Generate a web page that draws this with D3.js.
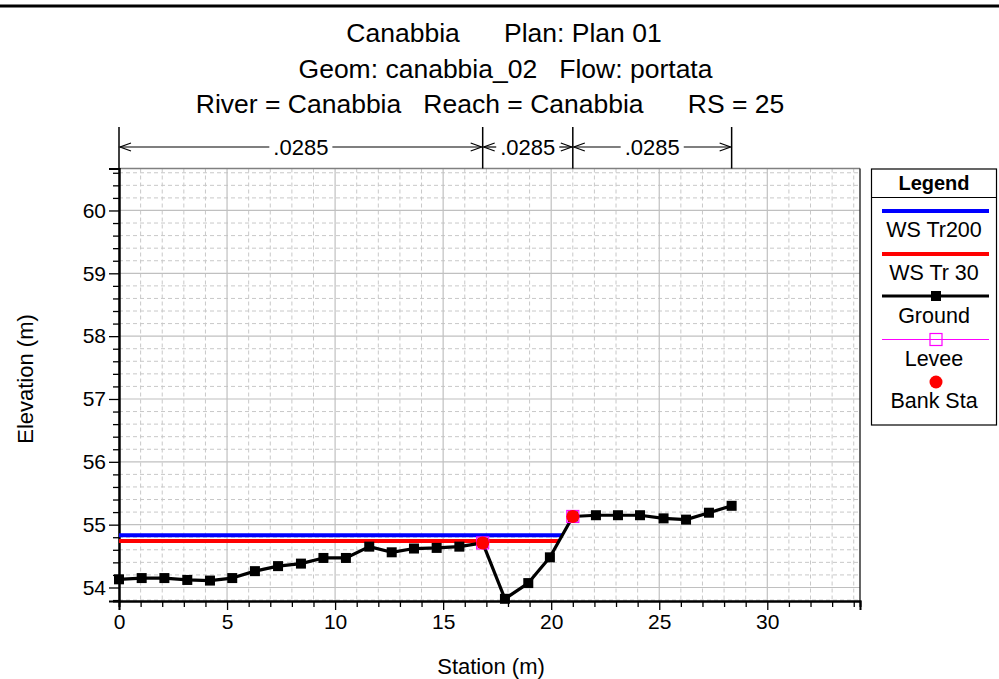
<!DOCTYPE html>
<html>
<head>
<meta charset="utf-8">
<script src="https://cdn.jsdelivr.net/npm/d3@7"></script>
<style>
  html, body { margin: 0; padding: 0; background: #fff; }
  svg { display: block; font-family: "Liberation Sans", Arial, Helvetica, sans-serif; }
  text { white-space: pre; }
</style>
</head>
<body>
<svg id="chart" width="999" height="679"></svg>
<script>
// Cross-section geometry: ground stations (m) and elevations (m)
const groundStation = [0, 1.05, 2.1, 3.16, 4.21, 5.24, 6.29, 7.36, 8.42, 9.46, 10.5,
  11.58, 12.62, 13.65, 14.7, 15.75, 16.83, 17.86, 18.94, 19.94, 21.0,
  22.07, 23.09, 24.11, 25.2, 26.24, 27.3, 28.35];
const groundElev = [54.13, 54.15, 54.15, 54.12, 54.11, 54.15, 54.26, 54.34, 54.38, 54.47, 54.47,
  54.65, 54.56, 54.62, 54.63, 54.65, 54.71, 53.82, 54.07, 54.48, 55.13,
  55.15, 55.15, 55.15, 55.10, 55.08, 55.19, 55.30];

// Bank stations and levees (m)
const bankStations = [16.83, 21.0];
const leveeStations = [16.83, 21.0];

// Water surface profiles
const wsNames = ["WS Tr200", "WS Tr 30"];
const wsElev = [54.83, 54.74];
const wsColors = ["#0000ff", "#ff0000"];

// Manning's n breakpoints and values
const nStations = [0, 16.83, 21.0, 28.35];
const nValues = [".0285", ".0285", ".0285"];

// Axis ticks
const xMajorTicks = [0, 5, 10, 15, 20, 25, 30];
const yMajorTicks = [54, 55, 56, 57, 58, 59, 60];

const titleLines = [
  "Canabbia      Plan: Plan 01",
  "Geom: canabbia_02   Flow: portata",
  "River = Canabbia   Reach = Canabbia      RS = 25"
];

const svg = d3.select("#chart");
const W = 999, H = 679;
const plot = { left: 119, right: 860, top: 168.5, bottom: 601 };

const x = d3.scaleLinear().domain([0, 34.29]).range([plot.left, plot.right]);
const y = d3.scaleLinear().domain([53.785, 60.668]).range([plot.bottom, plot.top]);

// Top rule
svg.append("rect").attr("x", 0).attr("y", 4.5).attr("width", W).attr("height", 3).attr("fill", "#000");

// Titles
const titleCx = [504, 505.5, 490];
const titleY = [42, 78, 113];
titleLines.forEach((t, i) => {
  svg.append("text").attr("x", titleCx[i]).attr("y", titleY[i])
    .attr("text-anchor", "middle").attr("font-size", 26.5).attr("fill", "#000").text(t);
});

// Grid
const xMinor = d3.range(0, 34.5, 1).filter(v => v % 5 !== 0);
const yMinor = d3.range(53.8, 60.7, 0.2).map(v => +v.toFixed(1)).filter(v => Math.abs(v - Math.round(v)) > 1e-6);
const grid = svg.append("g");
grid.selectAll(".gxm").data(xMinor).join("line")
  .attr("x1", d => x(d)).attr("x2", d => x(d)).attr("y1", plot.top).attr("y2", plot.bottom)
  .attr("stroke", "#c8c8c8").attr("stroke-width", 1).attr("stroke-dasharray", "4,3");
grid.selectAll(".gym").data(yMinor).join("line")
  .attr("y1", d => y(d)).attr("y2", d => y(d)).attr("x1", plot.left).attr("x2", plot.right)
  .attr("stroke", "#c8c8c8").attr("stroke-width", 1).attr("stroke-dasharray", "4,3");
grid.selectAll(".gxM").data(xMajorTicks).join("line")
  .attr("x1", d => x(d)).attr("x2", d => x(d)).attr("y1", plot.top).attr("y2", plot.bottom)
  .attr("stroke", "#c0c0c0").attr("stroke-width", 1.2);
grid.selectAll(".gyM").data(yMajorTicks).join("line")
  .attr("y1", d => y(d)).attr("y2", d => y(d)).attr("x1", plot.left).attr("x2", plot.right)
  .attr("stroke", "#c0c0c0").attr("stroke-width", 1.2);

// Frame
svg.append("line").attr("x1", plot.left).attr("x2", plot.right).attr("y1", plot.top).attr("y2", plot.top)
  .attr("stroke", "#808080").attr("stroke-width", 1.5);
svg.append("line").attr("x1", plot.right).attr("x2", plot.right).attr("y1", plot.top).attr("y2", plot.bottom)
  .attr("stroke", "#333").attr("stroke-width", 1.5);

// Axes
const xAxisMinor = d3.axisBottom(x).tickValues(xMinor).tickSize(6).tickFormat("");
const xAxisMajor = d3.axisBottom(x).tickValues(xMajorTicks).tickSize(9).tickPadding(4).tickFormat(d3.format("d"));
const yAxisMinor = d3.axisLeft(y).tickValues(yMinor).tickSize(6).tickFormat("");
const yAxisMajor = d3.axisLeft(y).tickValues(yMajorTicks).tickSize(10).tickPadding(3).tickFormat(d3.format("d"));

function styleAxis(g) {
  g.select(".domain").attr("stroke", "#000").attr("stroke-width", 2);
  g.selectAll(".tick line").attr("stroke", "#000").attr("stroke-width", 1.3);
  g.selectAll(".tick text").attr("font-size", 21).attr("fill", "#000")
    .attr("font-family", "'Liberation Sans', Arial, sans-serif");
}
svg.append("g").attr("transform", `translate(0,${plot.bottom})`).call(xAxisMinor).call(styleAxis);
svg.append("g").attr("transform", `translate(0,${plot.bottom})`).call(xAxisMajor).call(styleAxis);
svg.append("g").attr("transform", `translate(${plot.left},0)`).call(yAxisMinor).call(styleAxis);
svg.append("g").attr("transform", `translate(${plot.left},0)`).call(yAxisMajor).call(styleAxis);

// Axis titles
svg.append("text").attr("x", 491).attr("y", 674).attr("text-anchor", "middle")
  .attr("font-size", 22).text("Station (m)");
svg.append("text").attr("transform", "translate(33,379) rotate(-90)").attr("text-anchor", "middle")
  .attr("font-size", 22).text("Elevation (m)");

// Manning's n bar
const nTop = 127, nMid = 147;
const nG = svg.append("g");
nG.selectAll("line.nv").data(nStations).join("line")
  .attr("x1", d => x(d)).attr("x2", d => x(d)).attr("y1", nTop).attr("y2", plot.top)
  .attr("stroke", "#000").attr("stroke-width", 1.5);
nValues.forEach((v, i) => {
  const x0 = x(nStations[i]), x1 = x(nStations[i + 1]);
  const cx = (x0 + x1) / 2;
  const t = nG.append("text").attr("x", cx).attr("y", nMid + 8).attr("text-anchor", "middle")
    .attr("font-size", 22).text(v);
  const half = t.node().getComputedTextLength() / 2 + 4;
  nG.append("line").attr("x1", x0 + 1).attr("x2", cx - half).attr("y1", nMid).attr("y2", nMid)
    .attr("stroke", "#000").attr("stroke-width", 1.2);
  nG.append("line").attr("x1", cx + half).attr("x2", x1 - 1).attr("y1", nMid).attr("y2", nMid)
    .attr("stroke", "#000").attr("stroke-width", 1.2);
  // open arrowheads pointing to each boundary
  nG.append("path").attr("d", `M${x0 + 12},${nMid - 4} L${x0 + 1},${nMid} L${x0 + 12},${nMid + 4}`)
    .attr("fill", "none").attr("stroke", "#000").attr("stroke-width", 1.2);
  nG.append("path").attr("d", `M${x1 - 12},${nMid - 4} L${x1 - 1},${nMid} L${x1 - 12},${nMid + 4}`)
    .attr("fill", "none").attr("stroke", "#000").attr("stroke-width", 1.2);
});

// Ground points
const ground = groundStation.map((s, i) => ({ s, e: groundElev[i] }));
const elevAt = s => {
  for (let i = 0; i < ground.length - 1; i++) {
    const a = ground[i], b = ground[i + 1];
    if (s >= a.s && s <= b.s) return a.e + (b.e - a.e) * (s - a.s) / (b.s - a.s);
  }
  return ground[ground.length - 1].e;
};

// Water surface: from the left edge to where it meets the right bank slope
function wsRightEnd(e) {
  const lb = bankStations[0];
  for (let i = 0; i < ground.length - 1; i++) {
    const a = ground[i], b = ground[i + 1];
    if (a.s >= lb && a.e <= e && b.e >= e) return a.s + (e - a.e) * (b.s - a.s) / (b.e - a.e);
  }
  return ground[ground.length - 1].s;
}
wsElev.forEach((e, i) => {
  svg.append("line").attr("x1", x(groundStation[0])).attr("x2", x(wsRightEnd(e)))
    .attr("y1", y(e)).attr("y2", y(e)).attr("stroke", wsColors[i]).attr("stroke-width", 4);
});

const line = d3.line().x(d => x(d.s)).y(d => y(d.e));
svg.append("path").datum(ground).attr("d", line).attr("fill", "none")
  .attr("stroke", "#000").attr("stroke-width", 3.2).attr("stroke-linejoin", "round");
svg.selectAll("rect.gpt").data(ground).join("rect")
  .attr("x", d => x(d.s) - 5).attr("y", d => y(d.e) - 5).attr("width", 10).attr("height", 10).attr("fill", "#000");

// Levees and bank stations
svg.selectAll("rect.lev").data(leveeStations).join("rect")
  .attr("x", d => x(d) - 6).attr("y", d => y(elevAt(d)) - 6).attr("width", 12).attr("height", 12)
  .attr("fill", "none").attr("stroke", "#ff00ff").attr("stroke-width", 1.2);
svg.selectAll("circle.bank").data(bankStations).join("circle")
  .attr("cx", d => x(d)).attr("cy", d => y(elevAt(d))).attr("r", 6.5).attr("fill", "#ff0000");

// Legend
const lg = svg.append("g");
const L = { x0: 871.5, x1: 996.5, y0: 169, y1: 425 };
const lcx = (L.x0 + L.x1) / 2;
lg.append("rect").attr("x", L.x0).attr("y", L.y0).attr("width", L.x1 - L.x0).attr("height", L.y1 - L.y0)
  .attr("fill", "#fff").attr("stroke", "#000").attr("stroke-width", 1.2);
lg.append("line").attr("x1", L.x0).attr("x2", L.x1).attr("y1", 197.5).attr("y2", 197.5)
  .attr("stroke", "#000").attr("stroke-width", 1);
lg.append("text").attr("x", lcx).attr("y", 190).attr("text-anchor", "middle")
  .attr("font-size", 20).attr("font-weight", "bold").text("Legend");

const legendItems = [
  { name: wsNames[0], type: "ws", color: wsColors[0] },
  { name: wsNames[1], type: "ws", color: wsColors[1] },
  { name: "Ground", type: "ground" },
  { name: "Levee", type: "levee" },
  { name: "Bank Sta", type: "bank" }
];
const legSymY = [211, 254, 296, 339.5, 382];
const legTextY = [237, 280, 323, 365.5, 408];
legendItems.forEach((it, i) => {
  const sy = legSymY[i];
  if (it.type === "ws") {
    lg.append("line").attr("x1", 882).attr("x2", 989).attr("y1", sy).attr("y2", sy)
      .attr("stroke", it.color).attr("stroke-width", 4);
  } else if (it.type === "ground") {
    lg.append("line").attr("x1", 882).attr("x2", 989).attr("y1", sy).attr("y2", sy)
      .attr("stroke", "#000").attr("stroke-width", 3.2);
    lg.append("rect").attr("x", lcx + 2 - 5).attr("y", sy - 5).attr("width", 10).attr("height", 10).attr("fill", "#000");
  } else if (it.type === "levee") {
    lg.append("line").attr("x1", 882).attr("x2", 989).attr("y1", sy).attr("y2", sy)
      .attr("stroke", "#ff00ff").attr("stroke-width", 1);
    lg.append("rect").attr("x", lcx + 2 - 6).attr("y", sy - 6).attr("width", 12).attr("height", 12)
      .attr("fill", "none").attr("stroke", "#ff00ff").attr("stroke-width", 1.2);
  } else {
    lg.append("circle").attr("cx", lcx + 2).attr("cy", sy).attr("r", 6.5).attr("fill", "#ff0000");
  }
  lg.append("text").attr("x", lcx).attr("y", legTextY[i]).attr("text-anchor", "middle")
    .attr("font-size", 21.5).text(it.name);
});
</script>
</body>
</html>
